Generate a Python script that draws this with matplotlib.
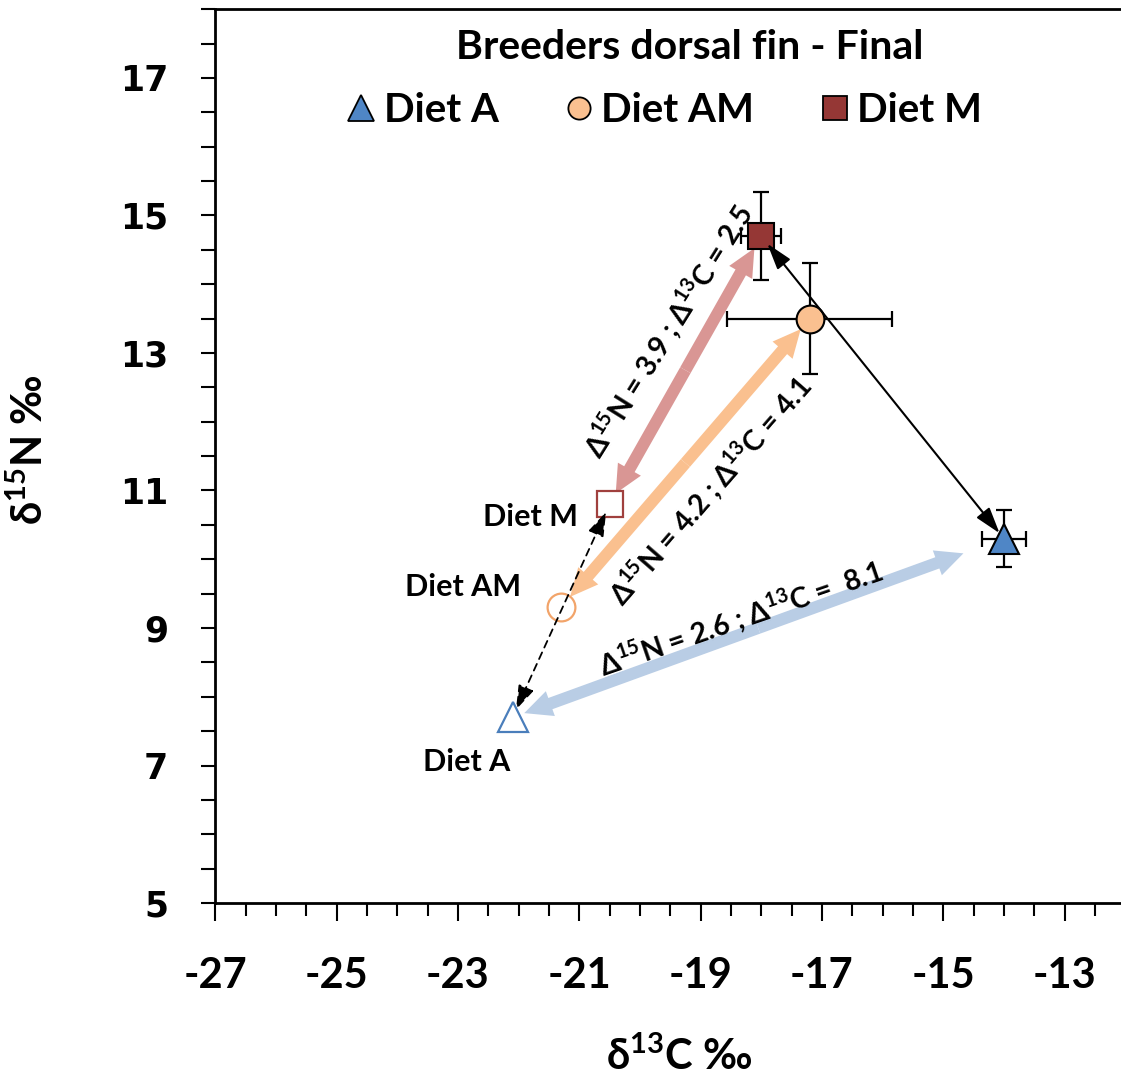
import matplotlib
matplotlib.use("Agg")
import matplotlib.pyplot as plt
from matplotlib.lines import Line2D
from matplotlib.ticker import MultipleLocator

# --- donnees ----------------------------------------------------------------
diets = ["Diet A", "Diet AM", "Diet M"]
fin_c = [-14.0, -17.2, -18.0]          # nageoire dorsale, final (d13C)
fin_n = [10.3, 13.5, 14.7]             # (d15N)
fin_c_sd = [0.36, 1.36, 0.33]
fin_n_sd = [0.42, 0.81, 0.64]
diet_c = [-22.1, -21.3, -20.5]         # aliments
diet_n = [7.7, 9.3, 10.8]
delta_labels = ["2.6 ; Δ$^{\\mathbf{13}}$C =  8.1",
                "4.2 ; Δ$^{\\mathbf{13}}$C = 4.1",
                "3.9 ; Δ$^{\\mathbf{13}}$C = 2.5"]

markers = ["^", "o", "s"]
fill = ["#4f86c6", "#fac090", "#953735"]
edge_open = ["#4a7ebb", "#f2a46a", "#a0403e"]
arrow_col = ["#b9cde5", "#fac08f", "#d99694"]
msize = [22, 20, 19]
leg_size = [19, 16, 17]

plt.rcParams["font.family"] = ["Lato", "DejaVu Sans"]
plt.rcParams["font.weight"] = "bold"
plt.rcParams["axes.unicode_minus"] = False
plt.rcParams["mathtext.fontset"] = "custom"
plt.rcParams["mathtext.rm"] = "Lato:bold"
plt.rcParams["mathtext.bf"] = "Lato:bold"

fig = plt.figure(figsize=(11.21, 10.86), dpi=100)
ax = fig.add_axes([0.192, 0.1685, 0.808, 0.8230])
ax.set_xlim(-27, -12.07)
ax.set_ylim(5, 18)

# fleches larges double sens (aliment <-> nageoire)
shr_open = [9, 10, 9]
shr_fin = [31, 10, 10]
for i in range(3):
    mid = ((diet_c[i] + fin_c[i]) / 2, (diet_n[i] + fin_n[i]) / 2)
    style = "simple,head_length=1.0,head_width=0.95,tail_width=0.43"
    ax.annotate("", xy=(fin_c[i], fin_n[i]), xytext=mid,
                arrowprops=dict(arrowstyle=style, color=arrow_col[i], lw=0,
                                mutation_scale=20, shrinkA=0, shrinkB=shr_fin[i]),
                zorder=2)
    ax.annotate("", xy=(diet_c[i], diet_n[i]), xytext=mid,
                arrowprops=dict(arrowstyle=style, color=arrow_col[i], lw=0,
                                mutation_scale=20, shrinkA=0, shrinkB=shr_open[i]),
                zorder=2)

# barres d'erreur + points finaux
for i in range(3):
    ax.errorbar(fin_c[i], fin_n[i], xerr=fin_c_sd[i], yerr=fin_n_sd[i],
                fmt="none", ecolor="black", elinewidth=1.6, capsize=6,
                capthick=1.6, zorder=3)
    ax.plot(fin_c[i], fin_n[i], marker=markers[i], ms=msize[i], mfc=fill[i],
            mec="black", mew=1.5, ls="none", zorder=4)
    ax.plot(diet_c[i], diet_n[i], marker=markers[i], ms=msize[i], mfc="white",
            mec=edge_open[i], mew=1.6, ls="none", zorder=4)

# fleche noire entre points finaux A et M
ax.annotate("", xy=(fin_c[2], fin_n[2]), xytext=(fin_c[0], fin_n[0]),
            arrowprops=dict(arrowstyle="<|-|>,head_length=0.8,head_width=0.25",
                            color="black", lw=1.5, mutation_scale=20,
                            shrinkA=5, shrinkB=7), zorder=5)
# fleche pointillee entre aliments M et A
ax.annotate("", xy=(diet_c[0], diet_n[0]), xytext=(diet_c[2], diet_n[2]),
            arrowprops=dict(arrowstyle="<|-|>,head_length=0.75,head_width=0.25",
                            color="black", lw=1.3, ls=(0, (4, 3)),
                            mutation_scale=20, shrinkA=6, shrinkB=6), zorder=5)

# etiquettes des aliments
lab_off = [(-33, -32), (-29, 15), (-23, -9)]
lab_ha = ["center", "right", "right"]
for i in range(3):
    ax.annotate(diets[i], (diet_c[i], diet_n[i]), xytext=lab_off[i],
                textcoords="offset points", ha=lab_ha[i], va="center",
                fontsize=22, fontweight="bold")

# textes des deltas, le long des fleches
txt_pos = [(-18.35, 9.15), (-18.85, 11.0), (-19.54, 13.33)]
txt_rot = [19, 49, 58]
for i in range(3):
    ax.text(txt_pos[i][0], txt_pos[i][1],
            "Δ$^{\\mathbf{15}}$N = " + delta_labels[i],
            rotation=txt_rot[i], rotation_mode="anchor", ha="center",
            va="center", fontsize=20.5, fontweight="bold", zorder=6)

# titre + legende
ax.text(0.524, 0.957, "Breeders dorsal fin - Final", transform=ax.transAxes,
        ha="center", va="center", fontsize=29.5, fontweight="bold")
handles = [Line2D([], [], marker=markers[i], ls="none", ms=leg_size[i],
                  mfc=fill[i], mec="black", mew=1.3) for i in range(3)]
ax.legend(handles, diets, loc="center", bbox_to_anchor=(0.495, 0.887), ncol=3,
          frameon=False, handlelength=0.8, handletextpad=0.15,
          columnspacing=1.6, prop={"weight": "bold", "size": 29})

# axes
for s in ["left", "bottom", "top"]:
    ax.spines[s].set_linewidth(2)
ax.spines["right"].set_visible(False)
ax.xaxis.set_minor_locator(MultipleLocator(0.5))
ax.yaxis.set_minor_locator(MultipleLocator(0.5))
ax.set_xticks(range(-27, -12, 2))
ax.set_yticks(range(5, 18, 2))
ax.tick_params(axis="x", which="major", direction="out", length=13, width=1.5,
               pad=26, labelsize=30)
ax.tick_params(axis="x", which="minor", direction="out", length=9, width=1.5)
ax.tick_params(axis="y", which="both", direction="out", length=10, width=1.5)
ax.tick_params(axis="y", which="major", pad=24, labelsize=25)
for t in ax.get_yticklabels():
    t.set_family("DejaVu Sans")
    t.set_fontweight("bold")

ax.set_xlabel("δ$^{\\mathbf{13}}$C ‰", fontsize=30, fontweight="bold")
ax.set_ylabel("δ$^{\\mathbf{15}}$N ‰", fontsize=30, fontweight="bold")
ax.xaxis.set_label_coords(0.512, -0.148)
ax.yaxis.set_label_coords(-0.182, 0.507)

fig.savefig("out.png", dpi=100)
